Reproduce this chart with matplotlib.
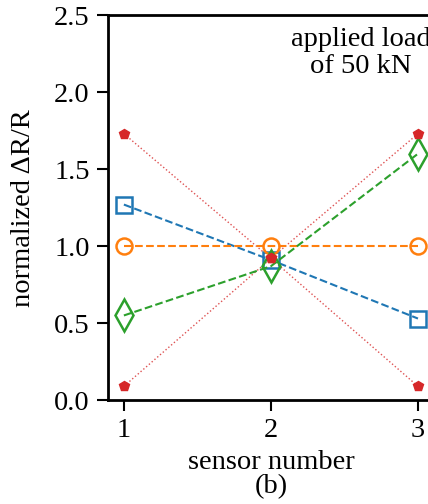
import matplotlib
matplotlib.use("Agg")
import matplotlib.pyplot as plt

plt.rcParams['font.family'] = ['Liberation Serif', 'DejaVu Serif']

sensors = [1, 2, 3]
series_square = [1.27, 0.91, 0.53]
series_circle = [1.00, 1.00, 1.00]
series_diamond = [0.55, 0.87, 1.60]
series_pent_a = [1.73, 0.92, 0.09]
series_pent_b = [0.09, 0.92, 1.73]
yticks = [0.0, 0.5, 1.0, 1.5, 2.0, 2.5]
xticks = [1, 2, 3]

fig = plt.figure(figsize=(4.28, 5.04), dpi=100)
ax = fig.add_axes([0.252, 0.206, 0.762, 0.764])

red = '#d62728'
ax.plot(sensors, series_pent_a, ':', color=red, lw=1.0, alpha=0.8, zorder=2)
ax.plot(sensors, series_pent_b, ':', color=red, lw=1.0, alpha=0.8, zorder=2)
ax.plot(sensors, series_square, '--', color='#1f77b4', lw=1.5, marker='s', ms=11.5,
        mfc='none', mew=1.8, zorder=3)
ax.plot(sensors, series_circle, '--', color='#ff7f0e', lw=1.5, marker='o', ms=11.5,
        mfc='none', mew=1.8, zorder=3)
ax.plot(sensors, series_diamond, '--', color='#2ca02c', lw=1.5, marker='d', ms=16,
        mfc='none', mew=1.8, zorder=3)
ax.plot(sensors, series_pent_a, 'p', color=red, ms=7.5, zorder=4)
ax.plot(sensors, series_pent_b, 'p', color=red, ms=7.5, zorder=4)

ax.set_xlim(0.891, 3.109)
ax.set_ylim(0.0, 2.5)
ax.set_xticks(xticks)
ax.set_yticks(yticks)
ax.set_yticklabels([f'{v:.1f}' for v in yticks])
ax.tick_params(direction='out', length=8, width=1.5, labelsize=20.5, pad=5)
for s in ax.spines.values():
    s.set_linewidth(2)
ax.spines['right'].set_visible(False)

ax.set_ylabel('normalized ΔR/R', fontsize=20.5, labelpad=13)
ax.set_xlabel('sensor number\n(b)', fontsize=20.5, labelpad=5, linespacing=0.95)

ax.text(2.61, 2.42, 'applied load\nof 50 kN', fontsize=20.5, ha='center', va='top',
        linespacing=1.08)

fig.savefig('out.png', dpi=100)
